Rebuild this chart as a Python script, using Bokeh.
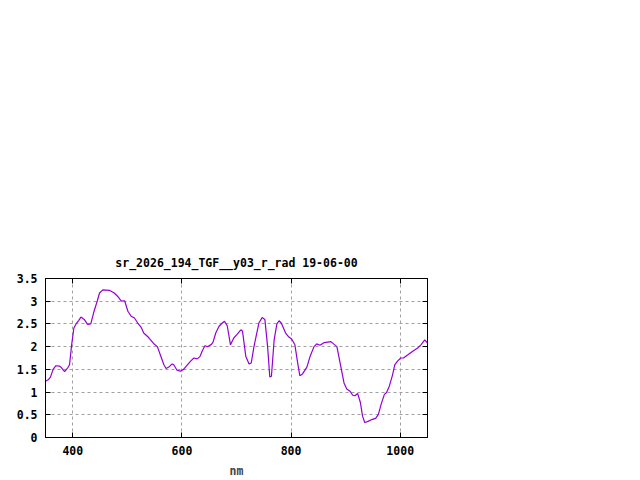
from bokeh.plotting import figure
from bokeh.models import LinearAxis, FixedTicker, Range1d, Title, Grid
from bokeh.embed import file_html
from bokeh.resources import INLINE

title_text = "sr_2026_194_TGF__y03_r_rad 19-06-00"
x_label = "nm"

wavelength = [350, 355, 359, 364, 369, 376, 379, 385, 390, 394, 398, 402, 406, 411, 415,
              421, 427, 433, 439, 445, 449, 455, 467, 476, 482, 489, 495, 501, 507, 513,
              519, 525, 530, 539, 548, 555, 561, 567, 571, 576, 582, 585, 591, 597, 603,
              610, 616, 622, 628, 633, 637, 642, 647, 654, 657, 662, 668, 674, 678, 683,
              689, 695, 701, 708, 711, 717, 723, 727, 732, 741, 747, 752, 757, 761, 764,
              769, 774, 778, 782, 790, 796, 801, 807, 812, 816, 821, 829, 835, 842, 847,
              853, 861, 873, 879, 884, 891, 897, 902, 908, 913, 917, 922, 927, 931, 935,
              940, 949, 955, 960, 965, 971, 975, 980, 986, 990, 995, 1001, 1006, 1014, 1023,
              1032, 1038, 1045, 1050]
radiance = [1.24, 1.27, 1.33, 1.50, 1.58, 1.57, 1.54, 1.45, 1.52, 1.60, 2.05, 2.41, 2.50, 2.58, 2.65,
            2.60, 2.49, 2.50, 2.78, 3.01, 3.18, 3.25, 3.24, 3.18, 3.11, 3.00, 3.01, 2.78, 2.67, 2.63,
            2.52, 2.43, 2.30, 2.20, 2.07, 2.00, 1.80, 1.60, 1.52, 1.55, 1.62, 1.60, 1.48, 1.46, 1.50,
            1.60, 1.68, 1.75, 1.73, 1.78, 1.90, 2.02, 2.00, 2.05, 2.10, 2.30, 2.45, 2.52, 2.56, 2.46,
            2.04, 2.19, 2.27, 2.37, 2.34, 1.79, 1.62, 1.64, 2.00, 2.52, 2.64, 2.60, 2.00, 1.33, 1.35,
            2.15, 2.50, 2.57, 2.52, 2.30, 2.21, 2.17, 2.04, 1.65, 1.36, 1.40, 1.55, 1.79, 2.00, 2.06,
            2.03, 2.09, 2.11, 2.05, 2.00, 1.57, 1.20, 1.07, 1.02, 0.93, 0.92, 0.97, 0.77, 0.47, 0.33,
            0.35, 0.40, 0.42, 0.51, 0.73, 0.95, 0.99, 1.13, 1.38, 1.60, 1.68, 1.75, 1.75, 1.82, 1.90,
            1.97, 2.04, 2.15, 2.08]

x_ticks = [400, 600, 800, 1000]
y_ticks = [0, 0.5, 1, 1.5, 2, 2.5, 3, 3.5]

FONT = "DejaVu Sans Mono"
FS = "11.5px"

p = figure(width=640, height=480, output_backend="svg", toolbar_location=None,
           x_range=Range1d(350, 1050), y_range=Range1d(0, 3.5),
           min_border_left=45, min_border_right=213, min_border_top=278,
           min_border_bottom=42, x_axis_type=None, y_axis_type=None)
p.title = Title(text=title_text, align="center", text_font=FONT,
                text_font_size=FS, text_font_style="bold", text_color="black",
                offset=0, standoff=17)
p.background_fill_color = "white"
p.border_fill_color = "white"
p.outline_line_color = "black"
p.outline_line_width = 1

def make_axis(ticks, labels=True):
    ax = LinearAxis(ticker=FixedTicker(ticks=ticks))
    ax.major_tick_in = 5
    ax.major_tick_out = 0
    ax.minor_tick_line_color = None
    ax.axis_line_color = "black"
    ax.major_tick_line_color = "black"
    ax.major_label_text_font = FONT
    ax.major_label_text_font_style = "bold"
    ax.major_label_text_color = "black"
    if labels:
        ax.major_label_text_font_size = FS
    else:
        ax.major_label_overrides = {t: "" for t in ticks}
        ax.major_label_text_font_size = "1px"
        ax.major_label_standoff = 0
    return ax

xb = make_axis(x_ticks)
xb.major_label_standoff = 8
xb.axis_label = x_label
xb.axis_label_text_font = FONT
xb.axis_label_text_font_size = FS
xb.axis_label_text_font_style = "bold"
xb.axis_label_standoff = 6
p.add_layout(xb, "below")

yl = make_axis(y_ticks)
yl.major_label_standoff = 8
p.add_layout(yl, "left")

p.add_layout(make_axis(y_ticks, labels=False), "right")
p.add_layout(make_axis(x_ticks, labels=False), "above")

p.add_layout(Grid(dimension=0, ticker=xb.ticker, grid_line_color="#a0a0a0",
                  grid_line_dash="3 3", grid_line_width=1))
p.add_layout(Grid(dimension=1, ticker=yl.ticker, grid_line_color="#a0a0a0",
                  grid_line_dash="3 3", grid_line_width=1))

p.line(wavelength, radiance, line_color="#9400d3", line_width=1.2)

open("out.html", "w").write(file_html(p, INLINE))
